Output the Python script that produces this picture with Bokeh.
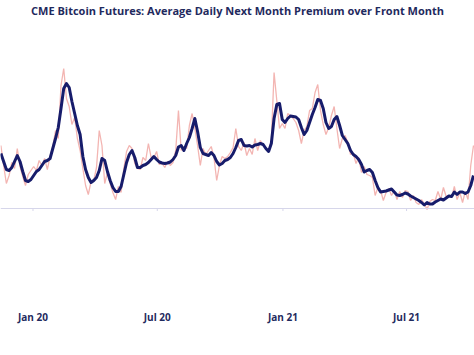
import pandas as pd
from bokeh.plotting import figure
from bokeh.models import Span, Legend, LegendItem, FixedTicker, Range1d
from bokeh.embed import file_html
from bokeh.resources import INLINE

# ---- data (premium in %, regular 4-day sampling) ----
START = "2019-11-15"
STEP_DAYS = 4

premium = [
    1.26, 0.86, 0.50, 0.66, 0.92, 0.80, 1.20, 0.84, 0.64, 0.46,
    0.68, 0.76, 0.84, 0.76, 0.96, 0.86, 1.00, 0.78, 1.04, 1.24,
    1.56, 1.40, 2.46, 2.80, 2.20, 2.04, 1.68, 1.82, 1.40, 1.16,
    0.80, 0.46, 0.28, 0.54, 0.56, 0.82, 1.56, 1.26, 0.50, 0.72,
    0.50, 0.32, 0.18, 0.44, 0.32, 0.80, 1.14, 1.26, 1.20, 0.90,
    0.80, 0.78, 1.02, 0.96, 1.30, 1.02, 1.02, 1.14, 0.88, 0.90,
    0.82, 0.94, 0.86, 0.92, 1.16, 1.96, 1.16, 1.24, 1.20, 1.66,
    1.90, 1.60, 1.26, 0.86, 1.20, 1.08, 1.16, 1.24, 1.02, 0.56,
    0.86, 1.04, 1.00, 1.04, 1.12, 1.22, 1.60, 1.24, 1.16, 1.32,
    1.06, 1.20, 1.08, 1.40, 1.16, 1.36, 1.26, 1.20, 1.16, 1.36,
    2.72, 2.16, 1.60, 1.70, 1.60, 1.90, 1.86, 1.80, 1.72, 1.56,
    1.30, 1.56, 1.64, 1.96, 2.00, 2.32, 2.48, 1.96, 1.68, 1.48,
    1.62, 1.86, 2.04, 1.60, 1.20, 1.40, 1.46, 1.32, 1.08, 1.10,
    0.90, 1.02, 0.72, 0.84, 0.68, 0.66, 0.62, 0.26, 0.42, 0.36,
    0.16, 0.32, 0.40, 0.26, 0.36, 0.18, 0.34, 0.22, 0.36, 0.34,
    0.16, 0.26, 0.12, 0.08, 0.18, 0.10, -0.02, 0.14, 0.18, 0.16,
    0.34, 0.18, 0.42, 0.24, 0.26, 0.22, 0.44, 0.18, 0.32, 0.12,
    0.34, 0.18, 0.86, 1.26,
]

avg7 = [
    1.10, 0.94, 0.78, 0.76, 0.82, 0.94, 1.06, 0.94, 0.74, 0.56,
    0.54, 0.58, 0.66, 0.74, 0.78, 0.86, 0.94, 0.96, 1.00, 1.20,
    1.40, 1.62, 2.00, 2.40, 2.50, 2.42, 2.14, 1.90, 1.66, 1.48,
    1.04, 0.78, 0.62, 0.52, 0.56, 0.62, 0.76, 1.00, 0.96, 0.74,
    0.56, 0.42, 0.34, 0.34, 0.44, 0.68, 0.92, 1.08, 1.16, 1.02,
    0.82, 0.82, 0.86, 0.88, 0.92, 0.98, 1.04, 0.98, 0.93, 0.91,
    0.90, 0.91, 0.93, 0.98, 1.06, 1.23, 1.26, 1.16, 1.30, 1.42,
    1.60, 1.80, 1.54, 1.22, 1.10, 1.08, 1.06, 1.12, 1.06, 0.94,
    0.87, 0.90, 0.96, 0.98, 1.02, 1.10, 1.22, 1.36, 1.38, 1.26,
    1.25, 1.26, 1.23, 1.27, 1.28, 1.30, 1.28, 1.20, 1.14, 1.30,
    1.80, 2.08, 2.10, 1.78, 1.72, 1.80, 1.85, 1.84, 1.83, 1.78,
    1.62, 1.48, 1.56, 1.72, 1.88, 2.02, 2.18, 2.16, 2.00, 1.72,
    1.60, 1.64, 1.78, 1.84, 1.66, 1.46, 1.38, 1.30, 1.16, 1.08,
    1.04, 0.98, 0.88, 0.73, 0.76, 0.78, 0.72, 0.56, 0.42, 0.33,
    0.34, 0.35, 0.37, 0.39, 0.33, 0.27, 0.26, 0.28, 0.31, 0.29,
    0.25, 0.22, 0.19, 0.16, 0.12, 0.07, 0.12, 0.09, 0.09, 0.13,
    0.16, 0.19, 0.17, 0.21, 0.25, 0.24, 0.33, 0.28, 0.33, 0.33,
    0.30, 0.33, 0.46, 0.66,
]

tick_dates = ["2020-01-01", "2020-07-01", "2021-01-01", "2021-07-01"]
tick_labels = ["Jan 20", "Jul 20", "Jan 21", "Jul 21"]

series_names = ["Average Daily Next Month Premium", "7-d avg"]
title_text = "CME Bitcoin Futures: Average Daily Next Month Premium over Front Month"

# ---- styling ----
NAVY = "#171c6b"
PINK = "#f3b5b2"
TEXT = "#1f2a5e"
AXIS = "#d6d6ea"
FONT = "Open Sans"


def to_ms(d):
    return float(pd.Timestamp(d).value // 10**6)


dates = [to_ms(d) for d in pd.date_range(START, periods=len(premium), freq=f"{STEP_DAYS}D")]
tick_ms = [to_ms(d) for d in tick_dates]

p = figure(
    frame_width=474, frame_height=276,
    x_axis_type="datetime",
    x_range=Range1d(start=to_ms("2019-11-14 10:00"), end=to_ms("2021-10-08 12:00")),
    y_range=Range1d(start=-1.70, end=3.82),
    output_backend="svg", toolbar_location=None,
    min_border_left=0, min_border_right=0, min_border_top=0, min_border_bottom=0,
)
p.title.text = title_text
p.title.align = "center"
p.title.text_font = FONT
p.title.text_font_size = "11px"
p.title.text_font_style = "bold"
p.title.text_color = TEXT
p.title.standoff = 0
p.title.offset = 0

p.outline_line_color = None
p.xgrid.visible = False
p.ygrid.visible = False
p.yaxis.visible = False

ax = p.xaxis[0]
ax.ticker = FixedTicker(ticks=tick_ms)
ax.major_label_overrides = {t: lab for t, lab in zip(tick_ms, tick_labels)}
ax.axis_line_color = None
ax.major_tick_line_color = None
ax.minor_tick_line_color = None
ax.major_tick_out = 0
ax.major_tick_in = 0
ax.minor_tick_out = 0
ax.major_label_standoff = 16
ax.major_label_text_font = FONT
ax.major_label_text_font_size = "10px"
ax.major_label_text_font_style = "bold"
ax.major_label_text_color = TEXT

p.add_layout(Span(location=0, dimension="width", line_color=AXIS, line_width=1))
p.segment(x0=tick_ms, y0=[0] * len(tick_ms), x1=tick_ms, y1=[-0.05] * len(tick_ms),
          line_color=AXIS, line_width=1)

r_raw = p.line(dates, premium, line_color=PINK, line_width=1.3)
r_avg = p.line(dates, avg7, line_color=NAVY, line_width=3, line_join="round")

legend = Legend(
    items=[LegendItem(label=series_names[0], renderers=[r_raw]),
           LegendItem(label=series_names[1], renderers=[r_avg])],
    orientation="horizontal", location="center",
    label_text_font=FONT, label_text_font_size="10px", label_text_font_style="bold",
    label_text_color=TEXT, glyph_width=20, glyph_height=12, label_height=12,
    spacing=20, label_standoff=3, padding=1, margin=0,
    border_line_color=None, background_fill_alpha=0,
)
p.add_layout(legend, "below")

open("out.html", "w").write(file_html(p, INLINE))
